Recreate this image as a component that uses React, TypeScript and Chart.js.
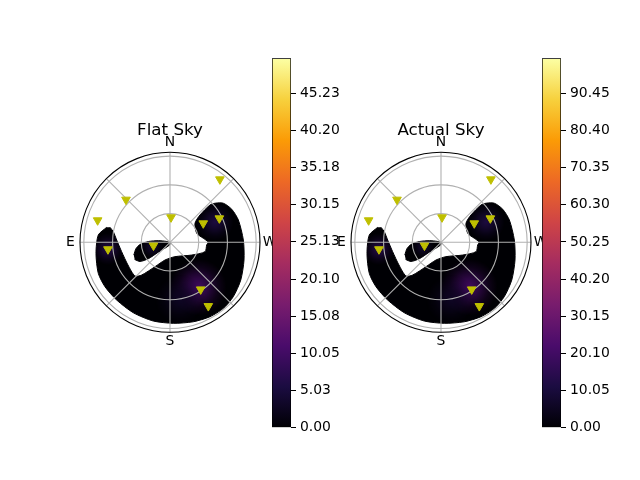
import React, { useEffect, useRef } from 'react';
import { Chart, registerables } from 'chart.js';

Chart.register(...registerables);

const FONT = "'DejaVu Sans', 'Liberation Sans', sans-serif";
Chart.defaults.font.family = FONT;
Chart.defaults.color = '#000';

// Satellites (azimuth from North through East, elevation in degrees)
const satAz = [321.6, 45.9, 73.1, 357.6, 299.7, 295.9, 96.4, 101.2, 213.1, 211.0];
const satEl = [6.1, 26.0, 11.0, 63.9, 50.0, 32.7, 24.8, 72.4, 31.3, 12.3];

// Coverage region boundary, sky-plane degrees from zenith (+x = West, +y = North)
const coverX = [-66.1, -74.9, -77.3, -74.9, -67.9, -55.7, -38.3, -17.5, 3.4, 24.3, 41.8, 55.7, 66.1, 73.9, 77.3, 76.6, 71.4, 64.5, 55.7, 47.0, 41.8, 31.3, 26.1, 27.9, 34.8, 39.7, 38.3, 36.6, 22.7, 5.2, -5.2, -15.7, -29.6, -36.6, -43.9, -50.5, -55.7, -59.2, -62.7];
const coverY = [15.7, 7.6, -11.5, -32.4, -46.4, -60.3, -73.6, -82.2, -84.6, -83.0, -77.7, -69.0, -56.8, -39.4, -18.5, 2.4, 23.3, 34.5, 40.8, 40.8, 39.0, 28.5, 19.9, 9.4, 4.2, 0.3, -2.8, -9.8, -13.3, -15.0, -18.5, -25.5, -34.2, -35.2, -23.7, -9.8, 2.4, 11.1, 15.7];
const tongueX = [-37.8, -35.5, -31.3, -22.7, -12.2, -4.2, 1.0, -1.8, -12.2, -22.7, -31.3, -36.9];
const tongueY = [-13.3, -6.5, -2.3, 0.8, 1.7, 1.0, -0.7, -3.9, -10.3, -17.2, -20.0, -18.0];

// Hot spots inside the coverage map
const glowX = [29.3, -64.8, 47.0, -18.8, 10.0];
const glowY = [-46.7, -7.0, 21.2, -4.9, -60.0];
const glowSize = [30, 17, 20, 12, 26];
const flatGlow = [10.5, 7, 6, 4.5, 3];
const actualGlow = [21, 14.5, 12, 9, 6];

// Colorbars
const flatMax = 49.95;
const actualMax = 99.9;
const flatTicks = ['0.00', '5.03', '10.05', '15.08', '20.10', '25.13', '30.15', '35.18', '40.20', '45.23'];
const actualTicks = ['0.00', '10.05', '20.10', '30.15', '40.20', '50.25', '60.30', '70.35', '80.40', '90.45'];

// Polar grid
const ringR = [30, 60, 90];
const spokeAz = [0, 45, 90, 135, 180, 225, 270, 315];
const rMax = 94;
const compass = ['N', 'E', 'S', 'W'];
const compassAz = [0, 90, 180, 270];

const inferno = ['#000004', '#1b0c41', '#4a0c6b', '#781c6d', '#a52c60', '#cf4446', '#ed6925', '#fb9b06', '#f7d13d', '#fcffa4'];

function hexRGB(h: string) {
  return [parseInt(h.slice(1, 3), 16), parseInt(h.slice(3, 5), 16), parseInt(h.slice(5, 7), 16)];
}
function infernoRGB(t: number) {
  const v = Math.max(0, Math.min(1, t)) * 9;
  const i = Math.min(8, Math.floor(v));
  const f = v - i;
  const a = hexRGB(inferno[i]);
  const b = hexRGB(inferno[i + 1]);
  return a.map((c, k) => Math.round(c + (b[k] - c) * f));
}

const spriteCache = new Map<string, HTMLCanvasElement>();
function sprite(t: number, rpx: number) {
  const key = t.toFixed(3) + '_' + rpx.toFixed(1);
  const hit = spriteCache.get(key);
  if (hit) return hit;
  const size = Math.ceil(rpx * 2);
  const c = document.createElement('canvas');
  c.width = size;
  c.height = size;
  const g = c.getContext('2d')!;
  const grd = g.createRadialGradient(size / 2, size / 2, 0, size / 2, size / 2, rpx);
  const [r, gg, b] = infernoRGB(t);
  grd.addColorStop(0, `rgba(${r},${gg},${b},0.95)`);
  grd.addColorStop(0.35, `rgba(${r},${gg},${b},0.6)`);
  grd.addColorStop(0.7, `rgba(${r},${gg},${b},0.2)`);
  grd.addColorStop(1, `rgba(${r},${gg},${b},0)`);
  g.fillStyle = grd;
  g.fillRect(0, 0, size, size);
  spriteCache.set(key, c);
  return c;
}

function pxPerDeg(chart: any) {
  const a = chart.chartArea;
  return a ? a.width / (2 * rMax) : 0.957;
}

function decor(title: string) {
  return {
    id: 'decor',
    beforeDatasetDraw(chart: any, args: any) {
      const ds = chart.data.datasets[args.index];
      if (ds.label !== 'glow') return;
      const ctx = chart.ctx;
      ctx.save();
      ctx.beginPath();
      chart.data.datasets.forEach((d: any, i: number) => {
        if (d.label === 'cover' || d.label === 'tongue') {
          const meta = chart.getDatasetMeta(i);
          if (meta.dataset && typeof meta.dataset.path === 'function') {
            meta.dataset.path(ctx);
          } else {
            meta.data.forEach((p: any, j: number) => (j ? ctx.lineTo(p.x, p.y) : ctx.moveTo(p.x, p.y)));
          }
          ctx.closePath();
        }
      });
      ctx.clip();
    },
    afterDatasetDraw(chart: any, args: any) {
      const ds = chart.data.datasets[args.index];
      if (ds.label !== 'glow') return;
      const ctx = chart.ctx;
      ctx.restore();
      const xs = chart.scales.x;
      const ys = chart.scales.y;
      const cx = xs.getPixelForValue(0);
      const cy = ys.getPixelForValue(0);
      const k = xs.getPixelForValue(1) - cx;
      ctx.save();
      ctx.strokeStyle = '#b0b0b0';
      ctx.lineWidth = 1.1;
      ringR.forEach((r) => {
        ctx.beginPath();
        ctx.arc(cx, cy, r * k, 0, Math.PI * 2);
        ctx.stroke();
      });
      spokeAz.forEach((az) => {
        const a = (az * Math.PI) / 180;
        ctx.beginPath();
        ctx.moveTo(cx, cy);
        ctx.lineTo(xs.getPixelForValue(-rMax * Math.sin(a)), ys.getPixelForValue(rMax * Math.cos(a)));
        ctx.stroke();
      });
      ctx.restore();
    },
    afterDraw(chart: any) {
      const ctx = chart.ctx;
      const xs = chart.scales.x;
      const ys = chart.scales.y;
      const cx = xs.getPixelForValue(0);
      const cy = ys.getPixelForValue(0);
      const k = xs.getPixelForValue(1) - cx;
      ctx.save();
      ctx.strokeStyle = '#000';
      ctx.lineWidth = 1.1;
      ctx.beginPath();
      ctx.arc(cx, cy, rMax * k, 0, Math.PI * 2);
      ctx.stroke();
      ctx.fillStyle = '#000';
      ctx.font = `13.9px ${FONT}`;
      ctx.textAlign = 'center';
      ctx.textBaseline = 'middle';
      const rl = 104;
      compass.forEach((lab, i) => {
        const a = (compassAz[i] * Math.PI) / 180;
        ctx.fillText(lab, xs.getPixelForValue(-rl * Math.sin(a)), ys.getPixelForValue(rl * Math.cos(a)));
      });
      ctx.font = `16.7px ${FONT}`;
      ctx.textBaseline = 'alphabetic';
      ctx.fillText(title, cx, chart.chartArea.top - 17);
      ctx.restore();
    },
  };
}

function polarConfig(title: string, glowLevels: number[], vmax: number): any {
  const sats = satAz.map((az, i) => {
    const z = 90 - satEl[i];
    const a = (az * Math.PI) / 180;
    return { x: -z * Math.sin(a), y: z * Math.cos(a) };
  });
  return {
    type: 'scatter',
    data: {
      datasets: [
        {
          label: 'sats',
          data: sats,
          order: 0,
          pointStyle: 'triangle',
          pointRotation: 180,
          pointRadius: 5,
          pointBackgroundColor: '#bfbf00',
          pointBorderColor: '#bfbf00',
          pointBorderWidth: 1,
          clip: false,
        },
        {
          label: 'glow',
          data: glowX.map((x, i) => ({ x, y: glowY[i] })),
          order: 1,
          pointRadius: 3,
          pointStyle: (c: any) => sprite(glowLevels[c.dataIndex] / vmax, glowSize[c.dataIndex] * pxPerDeg(c.chart)),
        },
        {
          label: 'cover',
          data: coverX.map((x, i) => ({ x, y: coverY[i] })),
          order: 2,
          showLine: true,
          fill: 'shape',
          backgroundColor: '#000004',
          borderColor: '#000004',
          borderWidth: 1,
          pointRadius: 0,
          tension: 0.25,
        },
        {
          label: 'tongue',
          data: tongueX.map((x, i) => ({ x, y: tongueY[i] })),
          order: 2,
          showLine: true,
          fill: 'shape',
          backgroundColor: '#000004',
          borderColor: '#000004',
          borderWidth: 1,
          pointRadius: 0,
          tension: 0.25,
        },
      ],
    },
    options: {
      responsive: false,
      animation: false,
      events: [],
      layout: { padding: { left: 20, right: 30, top: 42.3, bottom: 27.7 } },
      scales: {
        x: { type: 'linear', min: -rMax, max: rMax, display: false },
        y: { type: 'linear', min: -rMax, max: rMax, display: false },
      },
      plugins: { legend: { display: false }, tooltip: { enabled: false } },
    },
    plugins: [decor(title)],
  };
}

function cbarConfig(vmax: number, labels: string[]): any {
  const values = labels.map(Number);
  return {
    type: 'bar',
    data: {
      labels: [''],
      datasets: [
        {
          data: [vmax],
          backgroundColor: (c: any) => {
            const a = c.chart.chartArea;
            if (!a) return inferno[0];
            const g = c.chart.ctx.createLinearGradient(0, a.bottom, 0, a.top);
            inferno.forEach((col, i) => g.addColorStop(i / 9, col));
            return g;
          },
          borderColor: '#000',
          borderWidth: 1,
          borderSkipped: false,
          barPercentage: 1,
          categoryPercentage: 1,
        },
      ],
    },
    options: {
      responsive: false,
      animation: false,
      events: [],
      layout: { padding: { left: 0, right: 0, top: 58.3, bottom: 52.3 } },
      scales: {
        x: { display: false },
        y: {
          position: 'right',
          min: 0,
          max: vmax,
          afterFit: (s: any) => {
            s.width = 50;
          },
          afterBuildTicks: (s: any) => {
            s.ticks = values.map((v) => ({ value: v }));
          },
          ticks: {
            autoSkip: false,
            padding: 4,
            color: '#000',
            font: { size: 13.9, family: FONT },
            callback: (_v: any, i: number) => labels[i],
          },
          grid: { drawOnChartArea: false, drawTicks: true, tickLength: 5, color: '#000', lineWidth: 1 },
          border: { display: false },
        },
      },
      plugins: { legend: { display: false }, tooltip: { enabled: false } },
    },
  };
}

function ChartCanvas(props: { make: () => any; left: number; top: number; width: number; height: number }) {
  const ref = useRef<HTMLCanvasElement>(null);
  useEffect(() => {
    const chart = new Chart(ref.current!, props.make());
    return () => chart.destroy();
  }, []);
  return (
    <canvas
      ref={ref}
      width={props.width}
      height={props.height}
      style={{ position: 'absolute', left: props.left, top: props.top, width: props.width, height: props.height }}
    />
  );
}

export default function App() {
  return (
    <div style={{ position: 'absolute', left: 0, top: 0, width: 640, height: 480, background: '#fff', overflow: 'hidden' }}>
      <ChartCanvas make={() => polarConfig('Flat Sky', flatGlow, flatMax)} left={60} top={110} width={230} height={250} />
      <ChartCanvas make={() => cbarConfig(flatMax, flatTicks)} left={272} top={0} width={69} height={480} />
      <ChartCanvas make={() => polarConfig('Actual Sky', actualGlow, actualMax)} left={331} top={110} width={230} height={250} />
      <ChartCanvas make={() => cbarConfig(actualMax, actualTicks)} left={542} top={0} width={69} height={480} />
    </div>
  );
}
